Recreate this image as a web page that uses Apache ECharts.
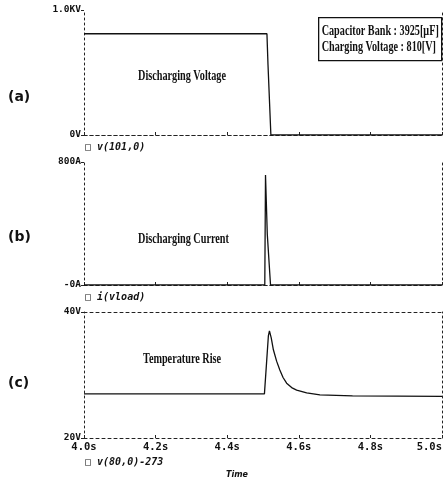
<!DOCTYPE html>
<html>
<head>
<meta charset="utf-8">
<script src="https://cdn.jsdelivr.net/npm/echarts@6/dist/echarts.min.js"></script>
<style>
  html, body { margin: 0; padding: 0; background: #fff; }
  #main { width: 445px; height: 481px; }
</style>
</head>
<body>
<div id="main"></div>
<script>
// x axis
var timeTicks = ['4.0s', '4.2s', '4.4s', '4.6s', '4.8s', '5.0s'];

// (a) discharging voltage
var voltT = [4.0, 4.511, 4.514, 4.522, 5.0];
var voltV = [810, 810, 560, 0, 0];

// (b) discharging current
var curT = [4.0, 4.505, 4.507, 4.512, 4.521, 5.0];
var curV = [0, 0, 715, 330, 0, 0];

// (c) temperature rise
var tempT = [4.0, 4.504, 4.510, 4.515, 4.518, 4.523, 4.529, 4.538, 4.547, 4.556, 4.566, 4.580, 4.594, 4.622, 4.659, 4.750, 5.0];
var tempV = [27.0, 27.0, 32.0, 36.2, 37.0, 35.9, 34.0, 32.2, 30.8, 29.6, 28.7, 28.0, 27.6, 27.15, 26.85, 26.7, 26.6];

var yLabels = [['0V', '1.0KV'], ['-0A', '800A'], ['20V', '40V']];
var yRange = [[0, 1000], [0, 800], [20, 40]];
var traceNames = ['\u25a1 v(101,0)', '\u25a1 i(vload)', '\u25a1 v(80,0)-273'];
var panelNames = ['(a)', '(b)', '(c)'];
var notes = ['Discharging Voltage', 'Discharging Current', 'Temperature Rise'];

var gridBox = [
  {left: 84, right: 3, top: 10, height: 125, outerBoundsMode: 'none', containLabel: false},
  {left: 84, right: 3, top: 162, height: 123, outerBoundsMode: 'none', containLabel: false},
  {left: 84, right: 3, top: 312, height: 126, outerBoundsMode: 'none', containLabel: false}
];

function zip(a, b) {
  var out = [];
  for (var i = 0; i < a.length; i++) out.push([a[i], b[i]]);
  return out;
}

var dotted = {color: '#222', width: 1, type: [2, 3]};
var dashed = {color: '#222', width: 1, type: [3, 3]};

var xAxes = [], yAxes = [];
for (var i = 0; i < 3; i++) {
  xAxes.push({
    type: 'value', gridIndex: i, min: 4.0, max: 5.0, interval: 0.2,
    axisLine: {lineStyle: dashed},
    axisTick: {show: true, inside: true, length: 3, lineStyle: {color: '#222'}},
    axisLabel: {
      show: i === 2, color: '#111', fontFamily: 'DejaVu Sans Mono', fontWeight: 'bold', fontSize: 10.5, margin: 4,
      alignMaxLabel: 'right',
      formatter: function (v) { return timeTicks[Math.round((v - 4) / 0.2)]; }
    },
    splitLine: {show: false}
  });
  yAxes.push({
    type: 'value', gridIndex: i, min: yRange[i][0], max: yRange[i][1], interval: yRange[i][1] - yRange[i][0],
    axisLine: {show: true, lineStyle: dotted},
    axisTick: {show: true, length: 3, lineStyle: {color: '#222'}},
    axisLabel: {
      color: '#111', fontFamily: 'DejaVu Sans Mono', fontWeight: 'bold', fontSize: 9.5, margin: 3,
      formatter: (function (k) {
        return function (v) { return v === yRange[k][0] ? yLabels[k][0] : yLabels[k][1]; };
      })(i)
    },
    splitLine: {show: false}
  });
}
for (var i = 0; i < 3; i++) {
  xAxes.push({
    type: 'value', gridIndex: i, position: 'top', min: 4.0, max: 5.0,
    axisLine: {show: true, lineStyle: dashed}, axisTick: {show: false}, axisLabel: {show: false}, splitLine: {show: false}
  });
  yAxes.push({
    type: 'value', gridIndex: i, position: 'right', min: yRange[i][0], max: yRange[i][1],
    axisLine: {show: true, lineStyle: dotted}, axisTick: {show: false}, axisLabel: {show: false}, splitLine: {show: false}
  });
}

var traces = [zip(voltT, voltV), zip(curT, curV), zip(tempT, tempV)];
var series = traces.map(function (d, i) {
  return {
    type: 'line', xAxisIndex: i, yAxisIndex: i, data: d,
    showSymbol: false, smooth: false, animation: false,
    lineStyle: {color: '#111', width: 1.3}
  };
});

var texts = [];
var traceY = [142, 292, 457];
var panelY = [90, 230, 376];
var noteY = [69, 232, 352];
var noteX = [138, 138, 143];
for (var i = 0; i < 3; i++) {
  texts.push({type: 'text', left: 85, top: traceY[i], style: {text: traceNames[i], font: 'italic bold 10px "DejaVu Sans Mono"', fill: '#111'}});
  texts.push({type: 'text', left: 8, top: panelY[i], style: {text: panelNames[i], font: 'bold 14px "DejaVu Sans"', fill: '#111'}});
  texts.push({type: 'text', x: noteX[i], y: noteY[i], scaleX: 0.73, style: {text: notes[i], font: 'bold 14px "Liberation Serif"', fill: '#111'}});
}
texts.push({type: 'text', left: 226, top: 471, style: {text: 'Time', font: 'italic bold 8px "DejaVu Sans"', fill: '#111'}});
texts.push({
  type: 'group', left: 318, top: 17,
  children: [
    {type: 'rect', shape: {x: 0, y: 0, width: 123, height: 43}, style: {fill: '#fff', stroke: '#111', lineWidth: 1.3}},
    {type: 'text', x: 3, y: 5, scaleX: 0.68, style: {text: 'Capacitor Bank : 3925[\u03bcF]\nCharging Voltage : 810[V]', font: 'bold 15px "Liberation Serif"', fill: '#111', lineHeight: 16}}
  ]
});

var chart = echarts.init(document.getElementById('main'));
chart.setOption({
  animation: false,
  backgroundColor: '#fff',
  grid: gridBox,
  xAxis: xAxes,
  yAxis: yAxes,
  series: series,
  graphic: texts
});
</script>
</body>
</html>
